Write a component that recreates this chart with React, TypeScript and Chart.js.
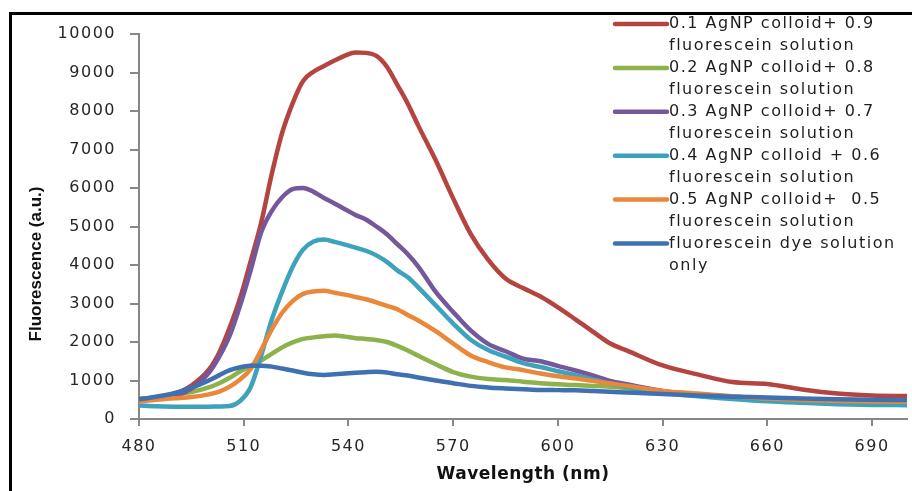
import React, { useEffect, useRef } from "react";
import { Chart, registerables } from "chart.js";

Chart.register(...registerables);

// Wavelength grid (nm)
const wavelengths = [
  480, 485, 490, 495, 500, 503, 506, 509, 512, 515, 518, 521, 524, 527, 530, 533, 536, 539, 542, 545,
  548, 551, 554, 557, 560, 565, 570, 575, 580, 585, 590, 595, 600, 605, 610, 615, 620, 630, 640, 650,
  660, 670, 680, 690, 700,
];

// 0.1 AgNP colloid + 0.9 fluorescein solution
const ag01 = [
  520, 560, 650, 870, 1280, 1730, 2380, 3150, 4100, 5100, 6350, 7430, 8200, 8780, 9020, 9170, 9310, 9440, 9520, 9510,
  9430, 9150, 8680, 8190, 7620, 6720, 5730, 4810, 4140, 3650, 3400, 3180, 2900, 2590, 2270, 1960, 1770, 1390, 1160, 960,
  910, 765, 660, 612, 595,
];
// 0.2 AgNP colloid + 0.8 fluorescein solution
const ag02 = [
  490, 570, 625, 700, 820, 930, 1070, 1240, 1380, 1520, 1690, 1860, 1990, 2080, 2120, 2150, 2170, 2140, 2100, 2080,
  2050, 2000, 1900, 1780, 1640, 1420, 1220, 1100, 1040, 1010, 970, 930, 900, 880, 860, 840, 800, 700, 640, 580,
  530, 490, 465, 450, 440,
];
// 0.3 AgNP colloid + 0.7 fluorescein solution
const ag03 = [
  500, 540, 600, 790, 1200, 1620, 2170, 2960, 3870, 4850, 5400, 5760, 5970, 6000, 5900, 5740, 5600, 5450, 5300, 5180,
  5000, 4800, 4540, 4280, 3960, 3300, 2780, 2300, 1950, 1760, 1570, 1500, 1380, 1260, 1130, 990, 900, 730, 640, 580,
  540, 510, 490, 475, 470,
];
// 0.4 AgNP colloid + 0.6 fluorescein solution
const ag04 = [
  350, 330, 320, 315, 320, 325, 335, 470, 830, 1650, 2570, 3310, 3950, 4400, 4610, 4660, 4600, 4530, 4450, 4370,
  4250, 4080, 3860, 3680, 3420, 2950, 2480, 2060, 1790, 1620, 1450, 1350, 1240, 1140, 1030, 920, 830, 680, 590, 520,
  460, 420, 385, 365, 360,
];
// 0.5 AgNP colloid + 0.5 fluorescein solution
const ag05 = [
  450, 500, 537, 570, 640, 710, 840, 1030, 1300, 1790, 2320, 2760, 3060, 3250, 3310, 3330, 3280, 3230, 3170, 3110,
  3030, 2940, 2850, 2700, 2560, 2280, 1960, 1650, 1480, 1340, 1270, 1180, 1110, 1050, 990, 920, 860, 730, 660, 590,
  530, 495, 470, 455, 445,
];
// fluorescein dye solution only
const dyeOnly = [
  510, 580, 670, 810, 1000, 1140, 1270, 1345, 1380, 1385, 1360, 1310, 1260, 1200, 1160, 1145, 1160, 1180, 1200, 1215,
  1225, 1210, 1160, 1130, 1080, 1000, 930, 860, 820, 795, 775, 755, 750, 745, 725, 705, 690, 650, 610, 580,
  560, 535, 515, 500, 495,
];

const xTickValues = [480, 510, 540, 570, 600, 630, 660, 690];

const seriesLabels = [
  ["0.1 AgNP colloid+ 0.9", "fluorescein solution"],
  ["0.2 AgNP colloid+ 0.8", "fluorescein solution"],
  ["0.3 AgNP colloid+ 0.7", "fluorescein solution"],
  ["0.4 AgNP colloid + 0.6", "fluorescein solution"],
  ["0.5 AgNP colloid+  0.5", "fluorescein solution"],
  ["fluorescein dye solution", "only"],
];
const seriesValues = [ag01, ag02, ag03, ag04, ag05, dyeOnly];
const seriesColors = ["#B4443F", "#8DB14B", "#74589B", "#3DA2BC", "#E9883B", "#3F71B2"];

const xTitle = "Wavelength (nm)";
const yTitle = "Fluorescence (a.u.)";

const AXIS_COLOR = "#878787";

const decorPlugin = {
  id: "decor",
  beforeDraw(chart: any) {
    const ctx = chart.ctx;
    ctx.save();
    ctx.fillStyle = "#ffffff";
    ctx.fillRect(0, 0, chart.width, chart.height);
    ctx.strokeStyle = "#000000";
    ctx.lineWidth = 3;
    ctx.beginPath();
    ctx.moveTo(10.5, chart.height + 10);
    ctx.lineTo(10.5, 13.5);
    ctx.lineTo(chart.width + 10, 13.5);
    ctx.stroke();
    ctx.restore();
    ctx.letterSpacing = "1.5px";
  },
  afterDraw(chart: any) {
    const ctx = chart.ctx;
    const area = chart.chartArea;
    const xs = chart.scales.x;
    const ys = chart.scales.y;

    // outside tick marks
    ctx.save();
    ctx.strokeStyle = AXIS_COLOR;
    ctx.lineWidth = 2;
    ctx.beginPath();
    xs.ticks.forEach((t: any) => {
      const px = Math.round(xs.getPixelForValue(t.value));
      ctx.moveTo(px, area.bottom);
      ctx.lineTo(px, area.bottom + 7);
    });
    ys.ticks.forEach((t: any) => {
      const py = Math.round(ys.getPixelForValue(t.value));
      ctx.moveTo(area.left - 9, py);
      ctx.lineTo(area.left, py);
    });
    ctx.stroke();
    ctx.restore();

    // legend
    ctx.save();
    const lx = area.right - 292;
    ctx.font = "16px 'DejaVu Sans'";
    ctx.letterSpacing = "1.5px";
    ctx.textAlign = "left";
    ctx.textBaseline = "middle";
    chart.data.datasets.forEach((ds: any, i: number) => {
      const y = 24 + i * 43.9;
      ctx.strokeStyle = ds.borderColor;
      ctx.lineWidth = 4.5;
      ctx.lineCap = "round";
      ctx.beginPath();
      ctx.moveTo(lx, y);
      ctx.lineTo(lx + 52, y);
      ctx.stroke();
      ctx.fillStyle = "#1e1e1e";
      const lines = seriesLabels[i];
      lines.forEach((t: string, j: number) => {
        ctx.fillText(t, lx + 54, y + j * 22);
      });
    });
    ctx.restore();

    // x title
    ctx.save();
    ctx.font = "bold 17px 'DejaVu Sans'";
    ctx.letterSpacing = "0.5px";
    ctx.fillStyle = "#111111";
    ctx.textAlign = "center";
    ctx.textBaseline = "middle";
    ctx.fillText(xTitle, (area.left + area.right) / 2, area.bottom + 56);
    ctx.restore();

    // y title
    ctx.save();
    ctx.font = "bold 17px 'Liberation Sans'";
    ctx.letterSpacing = "0px";
    ctx.fillStyle = "#111111";
    ctx.textAlign = "center";
    ctx.textBaseline = "middle";
    ctx.translate(area.left - 102.5, area.top + 230);
    ctx.rotate(-Math.PI / 2);
    ctx.fillText(yTitle, 0, 0);
    ctx.restore();

    ctx.letterSpacing = "0px";
  },
};

export default function App() {
  const canvasRef = useRef<HTMLCanvasElement | null>(null);

  useEffect(() => {
    if (!canvasRef.current) return;
    const tickFont = { family: "'DejaVu Sans'", size: 16 };
    const chart = new Chart(canvasRef.current, {
      type: "line",
      data: {
        datasets: seriesValues.map((vals, i) => ({
          label: seriesLabels[i].join(" "),
          data: vals.map((v, k) => ({ x: wavelengths[k], y: v })),
          borderColor: seriesColors[i],
          backgroundColor: seriesColors[i],
          borderWidth: 4.5,
          pointRadius: 0,
          tension: 0.4,
          cubicInterpolationMode: "monotone" as const,
          borderJoinStyle: "round" as const,
          borderCapStyle: "round" as const,
          order: seriesValues.length - i,
        })),
      },
      options: {
        animation: false,
        responsive: true,
        maintainAspectRatio: false,
        layout: { padding: { top: 34, right: 5, left: 0, bottom: 0 } },
        plugins: {
          legend: { display: false },
          tooltip: { enabled: false },
        },
        scales: {
          x: {
            type: "linear",
            min: 480,
            max: 700,
            afterBuildTicks: (s: any) => {
              s.ticks = xTickValues.map((v) => ({ value: v }));
            },
            afterFit: (s: any) => {
              s.height = 72;
            },
            grid: { display: false, drawOnChartArea: false, drawTicks: false },
            border: { display: true, color: AXIS_COLOR, width: 2 },
            ticks: {
              font: tickFont,
              color: "#262626",
              padding: 18,
              maxRotation: 0,
              autoSkip: false,
              callback: (v: any) => String(v),
            },
          },
          y: {
            min: 0,
            max: 10000,
            afterFit: (s: any) => {
              s.width = 139;
            },
            grid: { display: false, drawOnChartArea: false, drawTicks: false },
            border: { display: true, color: AXIS_COLOR, width: 2 },
            ticks: {
              stepSize: 1000,
              font: tickFont,
              color: "#262626",
              padding: 23,
              callback: (v: any) => String(v),
            },
          },
        },
      },
      plugins: [decorPlugin],
    });
    return () => chart.destroy();
  }, []);

  return (
    <div style={{ position: "absolute", left: 0, top: 0, width: 912, height: 491 }}>
      <canvas ref={canvasRef} />
    </div>
  );
}
